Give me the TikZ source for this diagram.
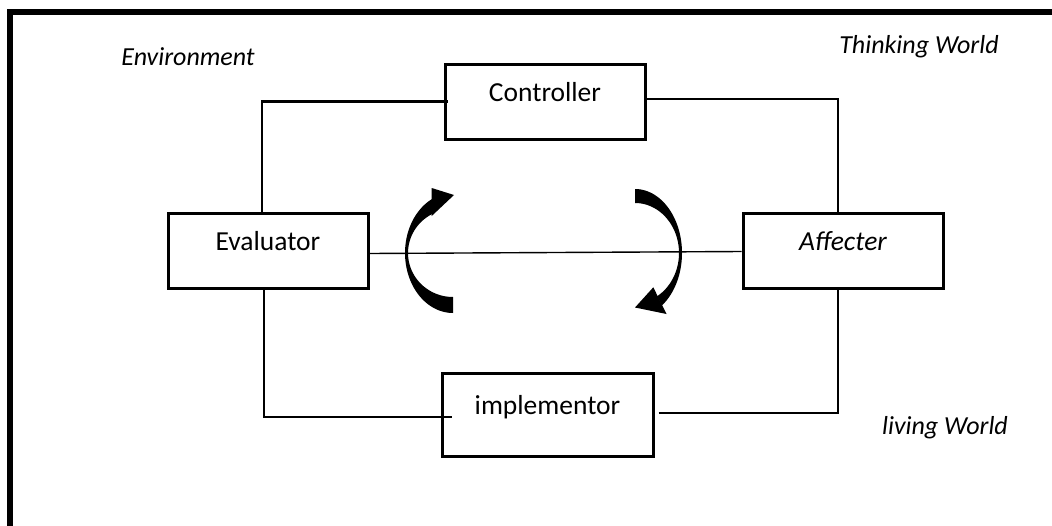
\documentclass[tikz,border=0pt]{standalone}
\usepackage{fontspec}
\setmainfont{Carlito}
\begin{document}
\begin{tikzpicture}[x=1pt,y=-1pt,
  box/.style={draw, line width=3pt, inner sep=0pt,
    minimum width=200pt, minimum height=75pt,
    text height=18pt, text depth=18pt,
    font=\fontsize{27.5}{32}\selectfont},
  thick link/.style={line width=2.7pt},
  thin link/.style={line width=1.4pt},
  tag/.style={font=\fontsize{26}{30}\selectfont\itshape, inner sep=0pt},
  frame/.style={line width=6pt, line join=miter}]
\clip (0,0) rectangle (1052,525);

% open outer frame (left and top edges)
\draw[frame] (10,560) -- (10,12.3) -- (1080,12.3);

% blocks
\node[box] (ctrl) at (545,101.5) {Controller};
\node[box] (eval) at (268,250.5) {Evaluator};
\node[box] (aff)  at (843,250.5) {\itshape Affecter};
\node[box, minimum width=211pt, minimum height=83pt] (impl) at (547.5,414.5) {implementor};

% corner labels
\node[tag] (env)   at (188,57)  {Environment};
\node[tag] (think) at (919,47)  {Thinking World};
\node[tag] (live)  at (945,428) {living World};

% connectors
\draw[thick link] ([xshift=4pt]ctrl.west) -| ([xshift=-6pt]eval.north);
\draw[thin link] ([yshift=2.5pt]ctrl.east) -| ([xshift=-5pt]aff.north);
\draw[thin link] ([yshift=-3pt]eval.east) -- ([yshift=-1pt]aff.west);
\draw[thin link] ([xshift=-4pt]eval.south) |- ([xshift=11pt,yshift=-2.5pt]impl.west);
\draw[thin link] ([xshift=4pt,yshift=1.5pt]impl.east) -| ([xshift=-5pt]aff.south);

% left curved arrow (turning upward)
\fill plot[domain=90:244, samples=60, variable=\t] ({453+48*cos(\t)},{253+60*sin(\t)})
  -- plot[domain=242:90, samples=60, variable=\t] ({453+45*cos(\t)},{253+44*sin(\t)}) -- cycle;
\fill (431.7,188) -- (454,195) -- (431.7,216) -- cycle;

% right curved arrow (turning downward)
\fill plot[domain=-90:55, samples=60, variable=\t] ({635+47*cos(\t)},{253+64*sin(\t)})
  -- plot[domain=60:-90, samples=60, variable=\t] ({635+44*cos(\t)},{253+50*sin(\t)}) -- cycle;
\fill (653.3,287.3) -- (635,307.5) -- (666.5,314) -- cycle;
\end{tikzpicture}
\end{document}
